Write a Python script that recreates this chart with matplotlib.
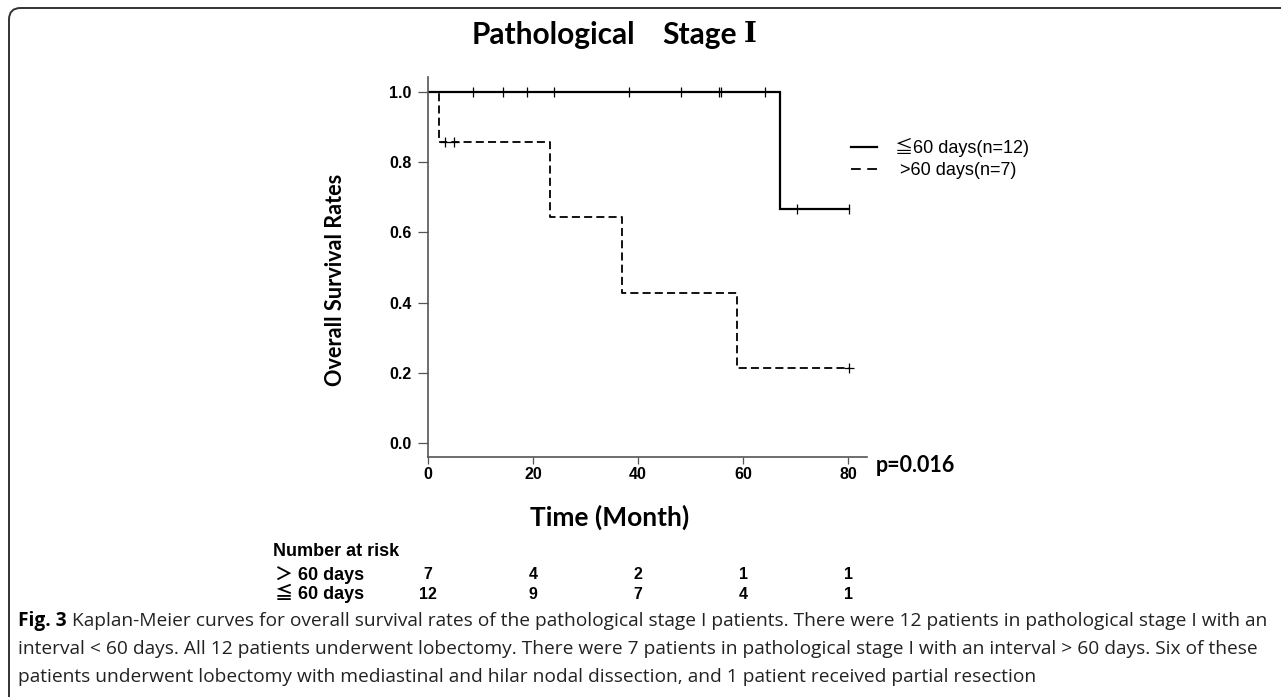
import numpy as np
import matplotlib
matplotlib.use("Agg")
import matplotlib.pyplot as plt
from matplotlib import transforms
from matplotlib.lines import Line2D
from matplotlib.patches import FancyBboxPatch

# survival data (months)
short_events = [67.1]
short_censored = [8.6, 14.3, 18.8, 23.9, 38.2, 48.1, 55.4, 55.8, 64.2, 70.2, 80.2]
long_events = [2.0, 23.2, 36.9, 58.8]
long_censored = [3.2, 4.9, 80.1]

risk_times = [0, 20, 40, 60, 80]
risk_long = [7, 4, 2, 1, 1]
risk_short = [12, 9, 7, 4, 1]

x_ticks = [0, 20, 40, 60, 80]
y_ticks = [0.0, 0.2, 0.4, 0.6, 0.8, 1.0]

legend_labels = ["\u226660 days(n=12)", " >60 days(n=7)"]
risk_labels = ["\uff1e 60 days", "\u2266 60 days"]

caption = [
    ("Fig. 3", " Kaplan-Meier curves for overall survival rates of the pathological stage I patients. "
               "There were 12 patients in pathological stage I with an"),
    ("", "interval < 60 days. All 12 patients underwent lobectomy. There were 7 patients in "
         "pathological stage I with an interval > 60 days. Six of these"),
    ("", "patients underwent lobectomy with mediastinal and hilar nodal dissection, and 1 patient "
         "received partial resection"),
]

plt.rcParams["lines.scale_dashes"] = False

W, H = 1281, 697


def km_curve(events, censored):
    """Kaplan-Meier step curve plus survival at censor times."""
    times = sorted([(t, 1) for t in events] + [(t, 0) for t in censored])
    n = len(times)
    s = 1.0
    xs, ys = [0.0], [1.0]
    cx, cy = [], []
    for t, ev in times:
        if ev:
            xs += [t, t]
            ys += [s, s * (1 - 1 / n)]
            s *= 1 - 1 / n
        else:
            cx.append(t)
            cy.append(s)
        n -= 1
    xs.append(times[-1][0])
    ys.append(s)
    return xs, ys, cx, cy


def px(x, y):
    return x / W, 1 - y / H


fig = plt.figure(figsize=(W / 100, H / 100), dpi=100)

# outer frame (rounded top-left corner)
frame = FancyBboxPatch(px(9, 760), 1.2, (760 - 8) / H,
                       boxstyle="round,pad=0,rounding_size=0.009",
                       mutation_aspect=W / H, transform=fig.transFigure,
                       fill=False, ec="#333333", lw=1.4)
fig.add_artist(frame)

ax = fig.add_axes([428 / W, 1 - 457 / H, 439 / W, 380 / H])

sx, sy, scx, scy = km_curve(short_events, short_censored)
lx, ly, lcx, lcy = km_curve(long_events, long_censored)

ax.plot(sx, sy, color="black", lw=1.6, solid_joinstyle="miter")
ax.plot(scx, scy, ls="none", marker="|", ms=7, mew=0.9, color="black")
ax.plot(lx, ly, color="black", lw=1.3, ls=(0, (5.8, 3.0)))
ax.plot(lcx, lcy, ls="none", marker="+", ms=7, mew=0.9, color="black")

ax.set_xlim(0, 83.6)
ax.set_ylim(-0.04, 1.043)
ax.set_xticks(x_ticks)
ax.set_yticks(y_ticks)
ax.set_yticklabels([f"{v:.1f}" for v in y_ticks])
for side in ["top", "right"]:
    ax.spines[side].set_visible(False)
for side in ["left", "bottom"]:
    ax.spines[side].set_color("#555555")
    ax.spines[side].set_linewidth(1.2)
ax.tick_params(axis="y", length=7, width=0.9, color="#555555", pad=5)
ax.tick_params(axis="x", length=5, width=0.9, color="#555555", pad=2)
for lab in ax.get_xticklabels() + ax.get_yticklabels():
    lab.set_fontfamily("Liberation Sans")
    lab.set_fontweight("bold")
    lab.set_fontsize(11.5)

# title (roman numeral drawn in a serif face like the original)
fig.text(*px(472, 35), "Pathological", ha="left", va="center",
         family="Lato", weight="bold", fontsize=21.5)
fig.text(*px(662, 35), "Stage", ha="left", va="center",
         family="Lato", weight="bold", fontsize=21.5)
fig.text(*px(757, 35), "\u2160", ha="right", va="center",
         family="DejaVu Serif", weight="bold", fontsize=20)

fig.text(*px(336, 280), "Overall Survival Rates", ha="center", va="center",
         rotation=90, family="Lato", weight="bold", fontsize=15.6)
fig.text(*px(610, 517), "Time (Month)", ha="center", va="center",
         family="Lato", weight="bold", fontsize=19)
fig.text(*px(876, 466), "p=0.016", ha="left", va="center",
         family="Lato", weight="bold", fontsize=15.5)

# legend
handles = [Line2D([], [], color="black", lw=1.6),
           Line2D([], [], color="black", lw=1.3, ls=(0, (7, 4.7)))]
ax.legend(handles, legend_labels,
          loc="upper left", bbox_to_anchor=px(851, 138),
          bbox_transform=fig.transFigure, frameon=False,
          borderpad=0, borderaxespad=0, handlelength=1.45,
          handletextpad=1.0, labelspacing=0.3,
          prop={"family": ["Liberation Sans", "Noto Sans CJK JP"], "size": 13})

# number at risk table (the two rows sit tight, so each column is one text)
tr = transforms.blended_transform_factory(ax.transData, fig.transFigure)
risk_font = dict(family=["Liberation Sans", "Noto Sans CJK JP"], weight="bold")
row_y = px(0, 584.5)[1]
fig.text(*px(273, 551), "Number at risk", ha="left", va="center",
         fontsize=13, **risk_font)
fig.text(275 / W, row_y, "\n".join(risk_labels), ha="left", va="center",
         fontsize=13, linespacing=1.0, **risk_font)
for t, a, b in zip(risk_times, risk_long, risk_short):
    ax.text(t, row_y, f"{a}\n{b}", transform=tr, ha="center", va="center",
            multialignment="center", linespacing=1.45, clip_on=False,
            fontsize=11.5, **risk_font)

# caption
fig.canvas.draw()
for i, (bold, rest) in enumerate(caption):
    y = px(0, 621 + 28 * i)[1]
    x0 = 18 / W
    if bold:
        t = fig.text(x0, y, bold, ha="left", va="center",
                     family="Open Sans", weight="bold", fontsize=13.8)
        x0 = t.get_window_extent(fig.canvas.get_renderer()).x1 / W
    fig.text(x0, y, rest, ha="left", va="center",
             family="Open Sans", fontsize=13.8, color="#222222")

fig.savefig("out.png", dpi=100)
